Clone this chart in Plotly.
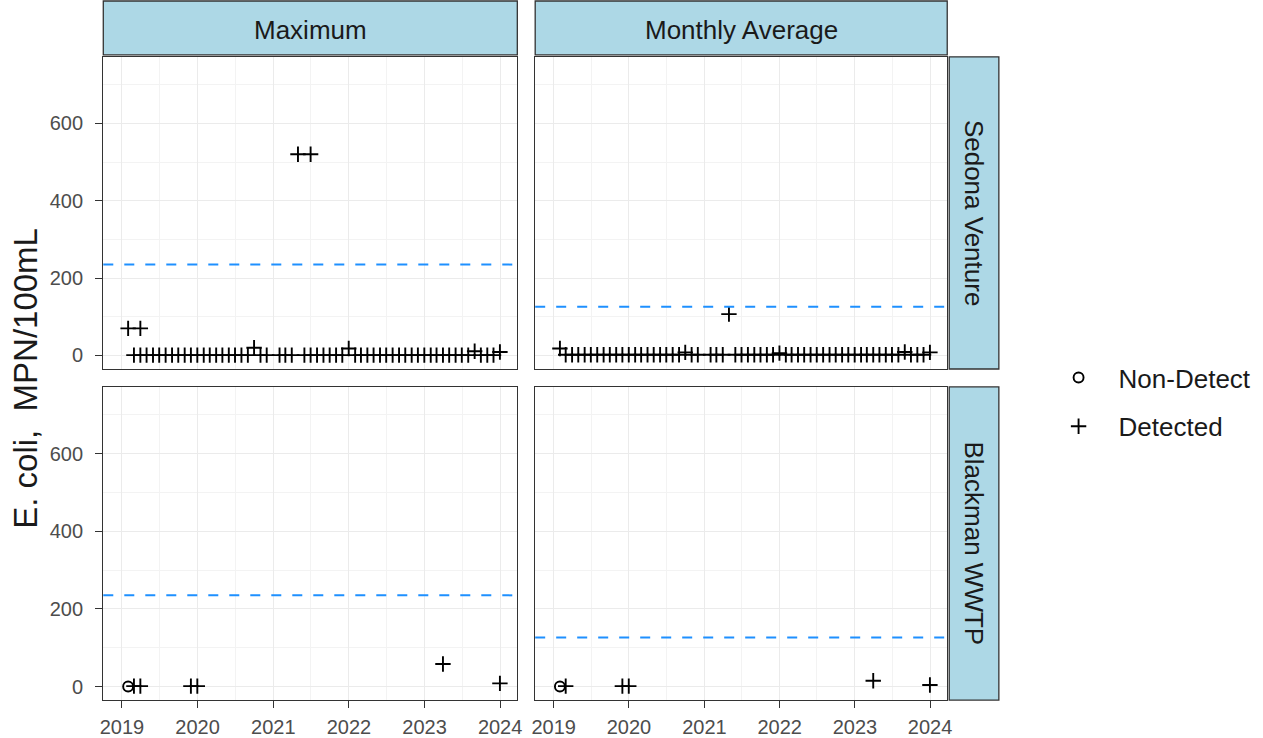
import calendar
import plotly.graph_objects as go

# ---------------------------------------------------------------------------
# Data
# ---------------------------------------------------------------------------
site_rows = ["Sedona Venture", "Blackman WWTP"]
stat_cols = ["Maximum", "Monthly Average"]

# E. coli permit limits (MPN/100mL) for each statistic
standards = {"Maximum": 235, "Monthly Average": 126}

# Monthly reporting periods, Jan 2019 - Dec 2023 (month-end dates)
months = [
    f"{y}-{m:02d}-{calendar.monthrange(y, m)[1]:02d}"
    for y in range(2019, 2024) for m in range(1, 13)
]

# Sedona Venture, daily maximum per month (None = not reported)
sv_max = [
    70, 1, 1, 1, 1, 1, 1, 1, 1, 1, 1, 1,            # 2019
    1, 1, 1, 1, 1, 1, 1, 1, 20, 1, 1, None,         # 2020
    1, 1, 1, 520, 1, 1, 1, 1, 1, 1, 1, 18,          # 2021
    1, 1, 1, 1, 1, 1, 1, 1, 1, 1, 1, 1,             # 2022
    1, 1, 1, 1, 1, 1, 1, 11, 1, 1, 1, 9,            # 2023
]
# additional maximum samples reported in the same months
sv_max_extra_dates = ["2019-03-31", "2021-06-30"]
sv_max_extra_vals = [70, 520]

# Sedona Venture, monthly average
sv_avg = [
    18, 2, 2, 2, 2, 2, 2, 2, 2, 2, 2, 2,            # 2019
    2, 2, 2, 2, 2, 2, 2, 2, 8, 2, 2, None,          # 2020
    2, 2, 2, 107, 2, 2, 2, 2, 2, 2, 2, 6,           # 2021
    2, 2, 2, 2, 2, 2, 2, 2, 2, 2, 2, 2,             # 2022
    2, 2, 2, 2, 2, 2, 2, 9, 2, 2, 2, 8,             # 2023
]

# Blackman WWTP (sparse reporting)
bw_max_dates = ["2019-01-31", "2019-02-28", "2019-03-31", "2019-11-30",
                "2019-12-31", "2023-03-31", "2023-12-31"]
bw_max_vals = [0, 1, 1, 1, 1, 58, 8]
bw_max_detect = ["Non-Detect", "Detected", "Detected", "Detected",
                 "Detected", "Detected", "Detected"]

bw_avg_dates = ["2019-01-31", "2019-02-28", "2019-11-30", "2019-12-31",
                "2023-03-31", "2023-12-31"]
bw_avg_vals = [0, 1, 1, 1, 15, 4]
bw_avg_detect = ["Non-Detect", "Detected", "Detected", "Detected",
                 "Detected", "Detected"]


def monthly(vals):
    d = [m for m, v in zip(months, vals) if v is not None]
    v = [v for v in vals if v is not None]
    return d, v


sv_max_d, sv_max_v = monthly(sv_max)
sv_avg_d, sv_avg_v = monthly(sv_avg)

facets = {
    ("Sedona Venture", "Maximum"): (
        sv_max_d + sv_max_extra_dates, sv_max_v + sv_max_extra_vals,
        ["Detected"] * (len(sv_max_v) + len(sv_max_extra_vals))),
    ("Sedona Venture", "Monthly Average"): (
        sv_avg_d, sv_avg_v, ["Detected"] * len(sv_avg_v)),
    ("Blackman WWTP", "Maximum"): (bw_max_dates, bw_max_vals, bw_max_detect),
    ("Blackman WWTP", "Monthly Average"): (bw_avg_dates, bw_avg_vals, bw_avg_detect),
}

# ---------------------------------------------------------------------------
# Layout geometry (pixels)
# ---------------------------------------------------------------------------
W, H = 1263, 738
col_px = [(100, 517), (535, 950)]
row_px = [(57, 370), (388, 702)]
top_strip = (1, 55)
right_strip = (952, 1002)

FONT = "Liberation Sans, Arial, Helvetica, sans-serif"
BORDER = "#333333"
STRIP_FILL = "#ADD8E6"
GRID = "#EBEBEB"
GRID_MINOR = "#F3F3F3"
TICK_TXT = "#4D4D4D"
TXT = "#1A1A1A"
HLINE = "#1E90FF"

symbols = {"Non-Detect": "circle-open", "Detected": "cross-thin-open"}
sizes = {"Non-Detect": 10, "Detected": 11}
ranks = {"Non-Detect": 1, "Detected": 2}

fig = go.Figure()
shown = set()
shapes = []
annotations = []

for r, site in enumerate(site_rows):
    for c, stat in enumerate(stat_cols):
        i = r * 2 + c + 1
        xa, ya = f"x{i}" if i > 1 else "x", f"y{i}" if i > 1 else "y"
        xkey, ykey = f"xaxis{i}" if i > 1 else "xaxis", f"yaxis{i}" if i > 1 else "yaxis"
        dates, vals, det = facets[(site, stat)]

        for status in ["Non-Detect", "Detected"]:
            xs = [d for d, s in zip(dates, det) if s == status]
            ys = [v for v, s in zip(vals, det) if s == status]
            if not xs:
                continue
            fig.add_trace(go.Scatter(
                x=xs, y=ys, mode="markers", name=status,
                legendgroup=status, legendrank=ranks[status],
                showlegend=status not in shown,
                marker=dict(symbol=symbols[status], size=sizes[status],
                            color="black",
                            line=dict(color="black", width=1.9)),
                xaxis=xa, yaxis=ya, hoverinfo="x+y",
            ))
            shown.add(status)

        # permit limit
        shapes.append(dict(
            type="line", xref=f"{xa} domain", x0=0, x1=1,
            yref=ya, y0=standards[stat], y1=standards[stat],
            line=dict(color=HLINE, width=2, dash="10px,11px"), layer="above"))

        x0, x1 = col_px[c]
        y0, y1 = row_px[r]
        bottom, left = (r == 1), (c == 0)
        fig.layout[xkey] = dict(
            domain=[x0 / W, x1 / W], anchor=ya, type="date",
            range=["2018-10-03", "2024-03-24"],
            tick0="2019-01-01", dtick="M12", tickformat="%Y",
            showgrid=True, gridcolor=GRID, gridwidth=1.4,
            minor=dict(dtick="M6", tick0="2019-01-01", showgrid=True,
                       gridcolor=GRID_MINOR, gridwidth=1, ticks=""),
            showline=True, mirror=True, linecolor=BORDER, linewidth=1.3,
            zeroline=False,
            ticks="outside" if bottom else "", ticklen=7, tickwidth=1.3,
            tickcolor=BORDER, showticklabels=bottom, ticklabelstandoff=2,
            tickfont=dict(family=FONT, size=20, color=TICK_TXT),
        )
        fig.layout[ykey] = dict(
            domain=[1 - y1 / H, 1 - y0 / H], anchor=xa,
            range=[-35, 772], tick0=0, dtick=200,
            showgrid=True, gridcolor=GRID, gridwidth=1.4,
            minor=dict(dtick=100, tick0=0, showgrid=True,
                       gridcolor=GRID_MINOR, gridwidth=1, ticks=""),
            showline=True, mirror=True, linecolor=BORDER, linewidth=1.3,
            zeroline=False,
            ticks="outside" if left else "", ticklen=7, tickwidth=1.3,
            tickcolor=BORDER, showticklabels=left, ticklabelstandoff=8,
            tickfont=dict(family=FONT, size=20, color=TICK_TXT),
        )

# column strips
for c, stat in enumerate(stat_cols):
    x0, x1 = col_px[c]
    shapes.append(dict(type="rect", xref="paper", yref="paper",
                       x0=x0 / W, x1=x1 / W,
                       y0=1 - top_strip[1] / H, y1=1 - top_strip[0] / H,
                       fillcolor=STRIP_FILL, line=dict(color=BORDER, width=1.3)))
    annotations.append(dict(text=stat, xref="paper", yref="paper",
                            x=(x0 + x1) / 2 / W,
                            y=1 - 30 / H,
                            showarrow=False, xanchor="center", yanchor="middle",
                            font=dict(family=FONT, size=26, color=TXT)))

# row strips
for r, site in enumerate(site_rows):
    y0, y1 = row_px[r]
    shapes.append(dict(type="rect", xref="paper", yref="paper",
                       x0=right_strip[0] / W, x1=right_strip[1] / W,
                       y0=1 - y1 / H, y1=1 - y0 / H,
                       fillcolor=STRIP_FILL, line=dict(color=BORDER, width=1.3)))
    annotations.append(dict(text=site, xref="paper", yref="paper",
                            x=(right_strip[0] + right_strip[1]) / 2 / W,
                            y=1 - (y0 + y1) / 2 / H, textangle=90,
                            showarrow=False, xanchor="center", yanchor="middle",
                            font=dict(family=FONT, size=26, color=TXT)))

# y-axis title shared by all panels
annotations.append(dict(text="E. coli,  MPN/100mL", xref="paper", yref="paper",
                        x=22 / W, y=1 - 379 / H, textangle=-90,
                        showarrow=False, xanchor="center", yanchor="middle",
                        font=dict(family=FONT, size=33, color=TXT)))

fig.update_layout(
    width=W, height=H, margin=dict(l=0, r=0, t=0, b=0),
    paper_bgcolor="white", plot_bgcolor="white",
    shapes=shapes, annotations=annotations,
    showlegend=True,
    legend=dict(x=1042 / W, y=1 - 355 / H, xanchor="left", yanchor="top",
                font=dict(family=FONT, size=26, color=TXT),
                tracegroupgap=12, itemwidth=70,
                bgcolor="rgba(0,0,0,0)", borderwidth=0),
)

fig.write_html("out.html")
